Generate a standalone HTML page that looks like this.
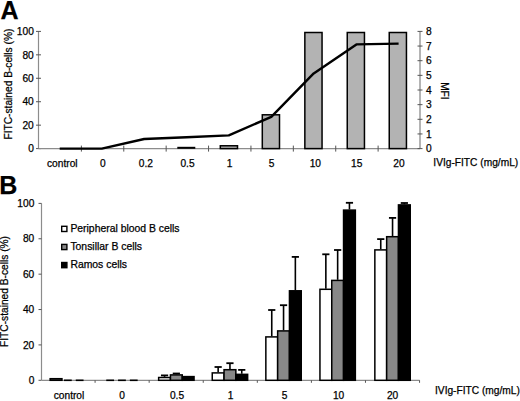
<!DOCTYPE html>
<html><head><meta charset="utf-8"><style>
html,body{margin:0;padding:0;background:#fff;}
body{width:520px;height:401px;overflow:hidden;}
svg{display:block;}
text{font-family:"Liberation Sans",sans-serif;font-size:10.2px;fill:#000;stroke:#000;stroke-width:0.25px;}
</style></head><body>
<svg width="520" height="401" viewBox="0 0 520 401">
<rect width="520" height="401" fill="#fff"/>
<text x="0.5" y="19" style="font-size:25px;font-weight:bold">A</text>
<line x1="38.5" y1="31.4" x2="38.5" y2="148.6" stroke="#8c8c8c" stroke-width="1.2"/>
<line x1="36.0" y1="148.60" x2="41.0" y2="148.60" stroke="#555" stroke-width="1"/>
<text x="33.8" y="152.30" text-anchor="end">0</text>
<line x1="36.0" y1="125.16" x2="41.0" y2="125.16" stroke="#555" stroke-width="1"/>
<text x="33.8" y="128.86" text-anchor="end">20</text>
<line x1="36.0" y1="101.72" x2="41.0" y2="101.72" stroke="#555" stroke-width="1"/>
<text x="33.8" y="105.42" text-anchor="end">40</text>
<line x1="36.0" y1="78.28" x2="41.0" y2="78.28" stroke="#555" stroke-width="1"/>
<text x="33.8" y="81.98" text-anchor="end">60</text>
<line x1="36.0" y1="54.84" x2="41.0" y2="54.84" stroke="#555" stroke-width="1"/>
<text x="33.8" y="58.54" text-anchor="end">80</text>
<line x1="36.0" y1="31.40" x2="41.0" y2="31.40" stroke="#555" stroke-width="1"/>
<text x="33.8" y="35.10" text-anchor="end">100</text>
<line x1="38.5" y1="148.6" x2="420.0" y2="148.6" stroke="#8c8c8c" stroke-width="1.2"/>
<line x1="81.39" y1="145.6" x2="81.39" y2="151.6" stroke="#555" stroke-width="1"/>
<line x1="123.78" y1="145.6" x2="123.78" y2="151.6" stroke="#555" stroke-width="1"/>
<line x1="166.17" y1="145.6" x2="166.17" y2="151.6" stroke="#555" stroke-width="1"/>
<line x1="208.56" y1="145.6" x2="208.56" y2="151.6" stroke="#555" stroke-width="1"/>
<line x1="250.94" y1="145.6" x2="250.94" y2="151.6" stroke="#555" stroke-width="1"/>
<line x1="293.33" y1="145.6" x2="293.33" y2="151.6" stroke="#555" stroke-width="1"/>
<line x1="335.72" y1="145.6" x2="335.72" y2="151.6" stroke="#555" stroke-width="1"/>
<line x1="378.11" y1="145.6" x2="378.11" y2="151.6" stroke="#555" stroke-width="1"/>
<line x1="420.0" y1="31.4" x2="420.0" y2="148.6" stroke="#8c8c8c" stroke-width="1.3"/>
<line x1="417.5" y1="148.60" x2="422.5" y2="148.60" stroke="#555" stroke-width="1"/>
<text x="426" y="152.30">0</text>
<line x1="417.5" y1="133.95" x2="422.5" y2="133.95" stroke="#555" stroke-width="1"/>
<text x="426" y="137.65">1</text>
<line x1="417.5" y1="119.30" x2="422.5" y2="119.30" stroke="#555" stroke-width="1"/>
<text x="426" y="123.00">2</text>
<line x1="417.5" y1="104.65" x2="422.5" y2="104.65" stroke="#555" stroke-width="1"/>
<text x="426" y="108.35">3</text>
<line x1="417.5" y1="90.00" x2="422.5" y2="90.00" stroke="#555" stroke-width="1"/>
<text x="426" y="93.70">4</text>
<line x1="417.5" y1="75.35" x2="422.5" y2="75.35" stroke="#555" stroke-width="1"/>
<text x="426" y="79.05">5</text>
<line x1="417.5" y1="60.70" x2="422.5" y2="60.70" stroke="#555" stroke-width="1"/>
<text x="426" y="64.40">6</text>
<line x1="417.5" y1="46.05" x2="422.5" y2="46.05" stroke="#555" stroke-width="1"/>
<text x="426" y="49.75">7</text>
<line x1="417.5" y1="31.40" x2="422.5" y2="31.40" stroke="#555" stroke-width="1"/>
<text x="426" y="35.10">8</text>
<rect x="177.30" y="146.80" width="18.00" height="2" fill="#000"/>
<rect x="220.30" y="145.78" width="17.20" height="2.82" fill="#b3b3b3" stroke="#000" stroke-width="1.5"/>
<rect x="262.30" y="114.80" width="17.20" height="33.80" fill="#b3b3b3" stroke="#000" stroke-width="1.5"/>
<rect x="304.85" y="32.50" width="17.20" height="116.10" fill="#b3b3b3" stroke="#000" stroke-width="1.5"/>
<rect x="347.25" y="32.50" width="17.20" height="116.10" fill="#b3b3b3" stroke="#000" stroke-width="1.5"/>
<rect x="389.25" y="32.50" width="17.20" height="116.10" fill="#b3b3b3" stroke="#000" stroke-width="1.5"/>
<polyline fill="none" stroke="#000" stroke-width="2.4" stroke-linejoin="round" points="59.7,148.6 101.8,148.6 144.2,139.0 186.6,137.3 228.8,135.4 271.3,116.8 313.7,73.4 356.4,44.4 398.6,43.6"/>
<text x="62.3" y="166.5" text-anchor="middle">control</text>
<text x="102.9" y="166.5" text-anchor="middle">0</text>
<text x="145.9" y="166.5" text-anchor="middle">0.2</text>
<text x="187.5" y="166.5" text-anchor="middle">0.5</text>
<text x="229.5" y="166.5" text-anchor="middle">1</text>
<text x="271.5" y="166.5" text-anchor="middle">5</text>
<text x="315.3" y="166.5" text-anchor="middle">10</text>
<text x="356.7" y="166.5" text-anchor="middle">15</text>
<text x="399.0" y="166.5" text-anchor="middle">20</text>
<text x="433.3" y="165.5">IVIg-FITC (mg/mL)</text>
<text transform="translate(12.3,84.1) rotate(-90)" text-anchor="middle">FITC-stained B-cells (%)</text>
<text transform="translate(441.1,90.9) rotate(90)" text-anchor="middle">MFI</text>
<text x="-0.7" y="194.2" style="font-size:25px;font-weight:bold">B</text>
<line x1="41.5" y1="203.4" x2="41.5" y2="380.3" stroke="#8c8c8c" stroke-width="1.2"/>
<line x1="38.5" y1="380.30" x2="41.5" y2="380.30" stroke="#555" stroke-width="1"/>
<text x="34.3" y="384.00" text-anchor="end">0</text>
<line x1="38.5" y1="344.92" x2="41.5" y2="344.92" stroke="#555" stroke-width="1"/>
<text x="34.3" y="348.62" text-anchor="end">20</text>
<line x1="38.5" y1="309.54" x2="41.5" y2="309.54" stroke="#555" stroke-width="1"/>
<text x="34.3" y="313.24" text-anchor="end">40</text>
<line x1="38.5" y1="274.16" x2="41.5" y2="274.16" stroke="#555" stroke-width="1"/>
<text x="34.3" y="277.86" text-anchor="end">60</text>
<line x1="38.5" y1="238.78" x2="41.5" y2="238.78" stroke="#555" stroke-width="1"/>
<text x="34.3" y="242.48" text-anchor="end">80</text>
<line x1="38.5" y1="203.40" x2="41.5" y2="203.40" stroke="#555" stroke-width="1"/>
<text x="34.3" y="207.10" text-anchor="end">100</text>
<line x1="41.5" y1="380.3" x2="419.6" y2="380.3" stroke="#8c8c8c" stroke-width="1.2"/>
<line x1="95.08" y1="380.3" x2="95.08" y2="382.8" stroke="#555" stroke-width="1"/>
<line x1="149.16" y1="380.3" x2="149.16" y2="382.8" stroke="#555" stroke-width="1"/>
<line x1="203.24" y1="380.3" x2="203.24" y2="382.8" stroke="#555" stroke-width="1"/>
<line x1="257.32" y1="380.3" x2="257.32" y2="382.8" stroke="#555" stroke-width="1"/>
<line x1="311.40" y1="380.3" x2="311.40" y2="382.8" stroke="#555" stroke-width="1"/>
<line x1="365.48" y1="380.3" x2="365.48" y2="382.8" stroke="#555" stroke-width="1"/>
<line x1="419.56" y1="380.3" x2="419.56" y2="382.8" stroke="#555" stroke-width="1"/>
<rect x="50.15" y="378.70" width="11.80" height="1.60" fill="#fff" stroke="#000" stroke-width="1.5"/>
<line x1="63.95" y1="380.3" x2="71.75" y2="380.3" stroke="#000" stroke-width="1.6"/>
<line x1="75.75" y1="380.3" x2="83.55" y2="380.3" stroke="#000" stroke-width="1.6"/>
<line x1="106.25" y1="380.3" x2="114.05" y2="380.3" stroke="#000" stroke-width="1.6"/>
<line x1="118.05" y1="380.3" x2="125.85" y2="380.3" stroke="#000" stroke-width="1.6"/>
<line x1="129.85" y1="380.3" x2="137.65" y2="380.3" stroke="#000" stroke-width="1.6"/>
<line x1="164.55" y1="376.90" x2="164.55" y2="375.40" stroke="#000" stroke-width="1.6"/>
<line x1="160.95" y1="375.40" x2="168.15" y2="375.40" stroke="#000" stroke-width="1.8"/>
<rect x="158.65" y="377.50" width="11.80" height="2.80" fill="#fff" stroke="#000" stroke-width="1.5"/>
<line x1="176.35" y1="374.30" x2="176.35" y2="373.50" stroke="#000" stroke-width="1.6"/>
<line x1="172.75" y1="373.50" x2="179.95" y2="373.50" stroke="#000" stroke-width="1.8"/>
<rect x="170.45" y="374.90" width="11.80" height="5.40" fill="#888" stroke="#000" stroke-width="1.5"/>
<rect x="182.25" y="376.60" width="11.80" height="3.70" fill="#000" stroke="#000" stroke-width="1.5"/>
<line x1="218.15" y1="372.30" x2="218.15" y2="367.00" stroke="#000" stroke-width="1.6"/>
<line x1="214.55" y1="367.00" x2="221.75" y2="367.00" stroke="#000" stroke-width="1.8"/>
<rect x="212.25" y="372.90" width="11.80" height="7.40" fill="#fff" stroke="#000" stroke-width="1.5"/>
<line x1="229.95" y1="369.10" x2="229.95" y2="363.20" stroke="#000" stroke-width="1.6"/>
<line x1="226.35" y1="363.20" x2="233.55" y2="363.20" stroke="#000" stroke-width="1.8"/>
<rect x="224.05" y="369.70" width="11.80" height="10.60" fill="#888" stroke="#000" stroke-width="1.5"/>
<line x1="241.75" y1="373.75" x2="241.75" y2="369.90" stroke="#000" stroke-width="1.6"/>
<line x1="238.15" y1="369.90" x2="245.35" y2="369.90" stroke="#000" stroke-width="1.8"/>
<rect x="235.85" y="374.35" width="11.80" height="5.95" fill="#000" stroke="#000" stroke-width="1.5"/>
<line x1="271.75" y1="336.30" x2="271.75" y2="310.00" stroke="#000" stroke-width="1.6"/>
<line x1="268.15" y1="310.00" x2="275.35" y2="310.00" stroke="#000" stroke-width="1.8"/>
<rect x="265.85" y="336.90" width="11.80" height="43.40" fill="#fff" stroke="#000" stroke-width="1.5"/>
<line x1="283.55" y1="330.30" x2="283.55" y2="305.20" stroke="#000" stroke-width="1.6"/>
<line x1="279.95" y1="305.20" x2="287.15" y2="305.20" stroke="#000" stroke-width="1.8"/>
<rect x="277.65" y="330.90" width="11.80" height="49.40" fill="#888" stroke="#000" stroke-width="1.5"/>
<line x1="295.35" y1="290.20" x2="295.35" y2="256.90" stroke="#000" stroke-width="1.6"/>
<line x1="291.75" y1="256.90" x2="298.95" y2="256.90" stroke="#000" stroke-width="1.8"/>
<rect x="289.45" y="290.80" width="11.80" height="89.50" fill="#000" stroke="#000" stroke-width="1.5"/>
<line x1="325.85" y1="288.70" x2="325.85" y2="254.30" stroke="#000" stroke-width="1.6"/>
<line x1="322.25" y1="254.30" x2="329.45" y2="254.30" stroke="#000" stroke-width="1.8"/>
<rect x="319.95" y="289.30" width="11.80" height="91.00" fill="#fff" stroke="#000" stroke-width="1.5"/>
<line x1="337.65" y1="279.80" x2="337.65" y2="250.00" stroke="#000" stroke-width="1.6"/>
<line x1="334.05" y1="250.00" x2="341.25" y2="250.00" stroke="#000" stroke-width="1.8"/>
<rect x="331.75" y="280.40" width="11.80" height="99.90" fill="#888" stroke="#000" stroke-width="1.5"/>
<line x1="349.45" y1="209.50" x2="349.45" y2="202.80" stroke="#000" stroke-width="1.6"/>
<line x1="345.85" y1="202.80" x2="353.05" y2="202.80" stroke="#000" stroke-width="1.8"/>
<rect x="343.55" y="210.10" width="11.80" height="170.20" fill="#000" stroke="#000" stroke-width="1.5"/>
<line x1="380.75" y1="249.30" x2="380.75" y2="239.10" stroke="#000" stroke-width="1.6"/>
<line x1="377.15" y1="239.10" x2="384.35" y2="239.10" stroke="#000" stroke-width="1.8"/>
<rect x="374.85" y="249.90" width="11.80" height="130.40" fill="#fff" stroke="#000" stroke-width="1.5"/>
<line x1="392.55" y1="236.10" x2="392.55" y2="217.90" stroke="#000" stroke-width="1.6"/>
<line x1="388.95" y1="217.90" x2="396.15" y2="217.90" stroke="#000" stroke-width="1.8"/>
<rect x="386.65" y="236.70" width="11.80" height="143.60" fill="#888" stroke="#000" stroke-width="1.5"/>
<line x1="404.35" y1="204.30" x2="404.35" y2="203.00" stroke="#000" stroke-width="1.6"/>
<line x1="400.75" y1="203.00" x2="407.95" y2="203.00" stroke="#000" stroke-width="1.8"/>
<rect x="398.45" y="204.90" width="11.80" height="175.40" fill="#000" stroke="#000" stroke-width="1.5"/>
<text x="69.0" y="399" text-anchor="middle">control</text>
<text x="122.2" y="399" text-anchor="middle">0</text>
<text x="177.0" y="399" text-anchor="middle">0.5</text>
<text x="230.6" y="399" text-anchor="middle">1</text>
<text x="284.7" y="399" text-anchor="middle">5</text>
<text x="338.6" y="399" text-anchor="middle">10</text>
<text x="392.6" y="399" text-anchor="middle">20</text>
<text x="435.0" y="394.3">IVIg-FITC (mg/mL)</text>
<text transform="translate(8.3,291.5) rotate(-90)" text-anchor="middle">FITC-stained B-cells (%)</text>
<rect x="61.7" y="226.30" width="5.2" height="5.2" fill="#fff" stroke="#000" stroke-width="1.4"/>
<text x="70.4" y="231.8" style="font-size:10.4px">Peripheral blood B cells</text>
<rect x="61.7" y="244.40" width="5.2" height="5.2" fill="#888" stroke="#000" stroke-width="1.4"/>
<text x="70.4" y="249.9" style="font-size:10.4px">Tonsillar B cells</text>
<rect x="61.7" y="262.50" width="5.2" height="5.2" fill="#000" stroke="#000" stroke-width="1.4"/>
<text x="70.4" y="267.6" style="font-size:10.4px">Ramos cells</text>
</svg>
</body></html>
